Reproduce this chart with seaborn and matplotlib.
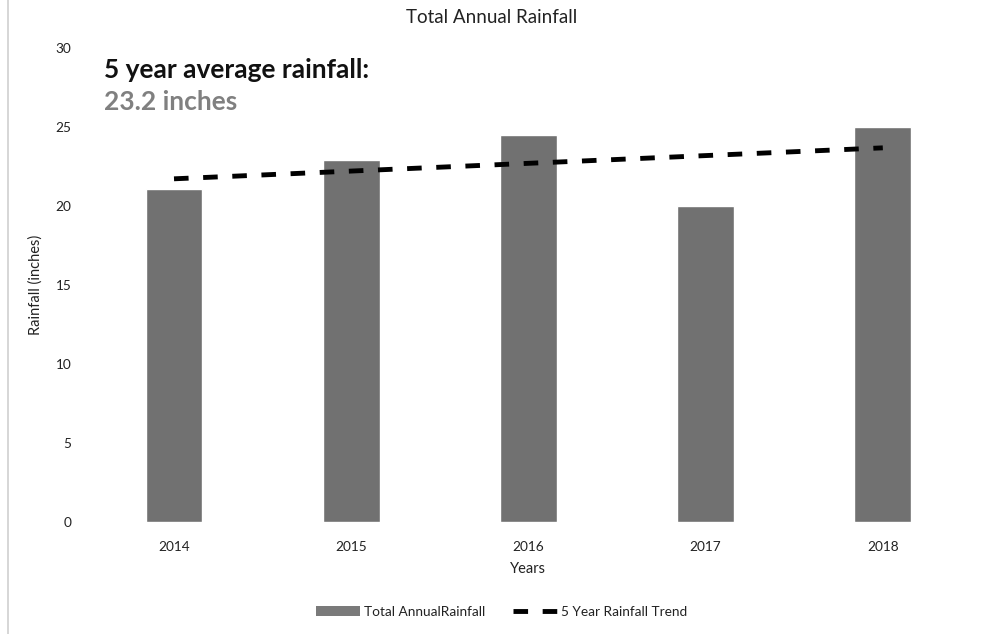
import numpy as np
import pandas as pd
import matplotlib
matplotlib.use("Agg")
import matplotlib.pyplot as plt
from matplotlib.patches import Patch
from matplotlib.lines import Line2D
import seaborn as sns

# Annual rainfall totals (inches)
years = ["2014", "2015", "2016", "2017", "2018"]
rainfall = [21.1, 22.9, 24.5, 20.0, 25.0]
average_label = "23.2 inches"

sns.set_theme(style="white")
plt.rcParams["font.family"] = ["Lato", "DejaVu Sans"]

df = pd.DataFrame({"Year": years, "Rainfall": rainfall})

fig = plt.figure(figsize=(9.84, 6.34), dpi=100)
ax = fig.add_axes([0.0868, 0.1767, 0.9004, 0.7476])

bar_color = "#717171"
sns.barplot(data=df, x="Year", y="Rainfall", color=bar_color, width=0.32,
            saturation=1, ax=ax)

# Linear trend line fitted through the yearly totals
dash = (0, (3.0, 3.0))
xpos = np.arange(len(years))
slope, intercept = np.polyfit(xpos, rainfall, 1)
ax.plot(xpos, slope * xpos + intercept, color="black", lw=3.5, linestyle=dash)

ax.set_xlim(-0.5, len(years) - 0.5)
ax.set_ylim(0, 30)
ax.set_yticks([0, 5, 10, 15, 20, 25, 30])
for s in ax.spines.values():
    s.set_visible(False)
ax.tick_params(axis="both", length=0, labelsize=9.8, colors="#222222")
ax.tick_params(axis="y", pad=10)
ax.tick_params(axis="x", pad=14)

ax.set_xlabel("Years", fontsize=10.5, color="#222222", labelpad=6)
ax.set_ylabel("Rainfall (inches)", fontsize=10.5, color="#222222", labelpad=9)

fig.text(0.5, 0.973, "Total Annual Rainfall", ha="center", va="center",
         fontsize=13.5, color="#222222")

fig.text(0.106, 0.889, "5 year average rainfall:", ha="left", va="center",
         fontsize=19, fontweight="bold", color="#111111")
fig.text(0.106, 0.839, average_label, ha="left", va="center",
         fontsize=19, fontweight="bold", color="#808080")

handles = [Patch(facecolor="#7a7a7a", edgecolor="none"),
           Line2D([0], [0], color="black", lw=3.5, linestyle=dash)]
fig.legend(handles, ["Total AnnualRainfall", "5 Year Rainfall Trend"],
           loc="center", bbox_to_anchor=(0.51, 0.035), ncol=2, frameon=False,
           fontsize=9.8, handlelength=3.2, columnspacing=2.0,
           handletextpad=0.35, labelcolor="#222222")

# thin border line at the left edge of the page
fig.add_artist(Line2D([0.008, 0.008], [0, 1], color="#cfcfcf", lw=1.2,
                      transform=fig.transFigure))

fig.savefig("out.png", dpi=100)
